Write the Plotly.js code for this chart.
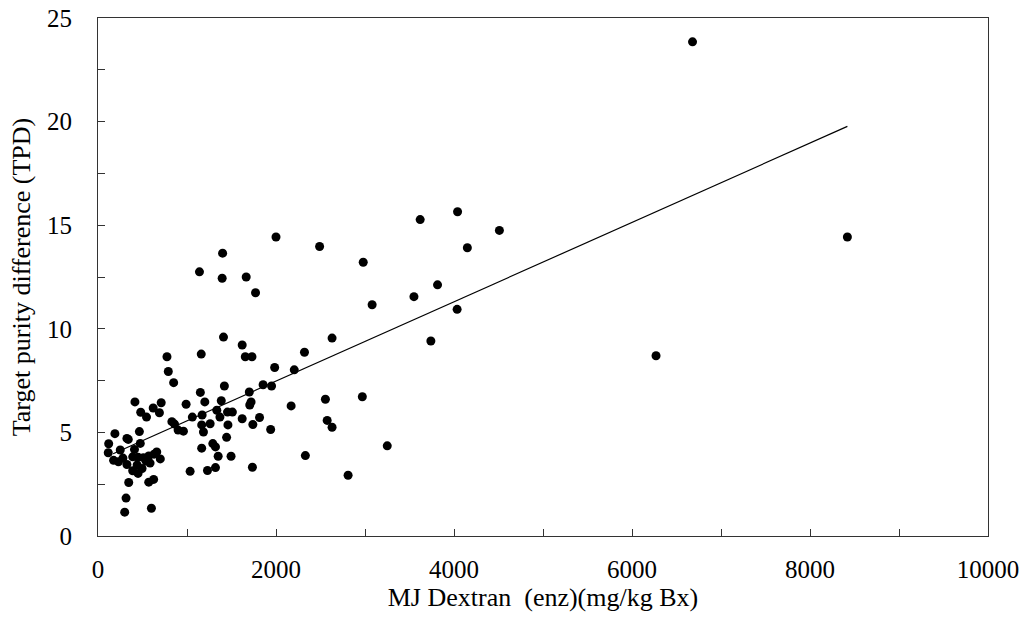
<!DOCTYPE html>
<html>
<head>
<meta charset="utf-8">
<script src="https://cdn.plot.ly/plotly-3.0.1.min.js"></script>
<style>html,body{margin:0;padding:0;background:#fff;}#chart{width:1020px;height:618px;}</style>
</head>
<body>
<div id="chart"></div>
<script>
// MJ Dextran (enz) (mg/kg Bx)
const dextran = [
  6680, 8420, 6270, 4040, 3620, 4510, 4150, 2000, 2490, 2980,
  1400, 1140, 1395, 1665, 1770, 3815, 3550, 3080, 4035, 3740,
  2630, 1410, 1620, 1655, 1730, 1160, 775, 790, 850, 2320,
  1985, 2205, 1855, 1950, 1420, 1700, 1150, 2970, 2555, 2170,
  415, 710, 1200, 1385, 1720, 990, 1705, 620, 545, 480,
  690, 1335, 1455, 1510, 1170, 1060, 1370, 1620, 1815, 830,
  860, 900, 960, 1165, 1260, 1460, 1740, 1940, 2575, 2630,
  1185, 465, 190, 1445, 325, 340, 475, 120, 1290, 1320,
  1165, 3250, 2330, 1350, 1495, 1735, 1320, 1035, 1230, 2810,
  115, 250, 175, 280, 390, 450, 510, 570, 630, 700,
  660, 410, 325, 440, 585, 390, 450, 495, 345, 570,
  625, 315, 300, 600, 230, 540
];
// Target purity difference (TPD)
const tpd = [
  23.85, 14.43, 8.70, 15.65, 15.27, 14.75, 13.91, 14.43, 13.97, 13.21,
  13.65, 12.75, 12.44, 12.50, 11.74, 12.12, 11.55, 11.16, 10.94, 9.41,
  9.55, 9.60, 9.22, 8.65, 8.65, 8.78, 8.65, 7.94, 7.40, 8.87,
  8.13, 8.02, 7.30, 7.24, 7.24, 6.95, 6.93, 6.72, 6.60, 6.28,
  6.47, 6.43, 6.47, 6.53, 6.47, 6.36, 6.32, 6.18, 5.74, 5.97,
  5.95, 6.07, 5.98, 5.98, 5.84, 5.74, 5.74, 5.66, 5.72, 5.52,
  5.40, 5.11, 5.06, 5.36, 5.42, 5.36, 5.38, 5.14, 5.58, 5.25,
  5.02, 5.04, 4.94, 4.76, 4.71, 4.66, 4.47, 4.45, 4.46, 4.30,
  4.24, 4.35, 3.88, 3.85, 3.85, 3.32, 3.30, 3.12, 3.16, 2.93,
  4.02, 4.15, 3.65, 3.76, 3.82, 3.80, 3.78, 3.86, 3.95, 3.72,
  4.06, 4.18, 3.45, 3.43, 3.52, 3.15, 3.02, 3.26, 2.58, 2.60,
  2.73, 1.83, 1.15, 1.34, 3.58, 3.62
];
// fitted trend line end points
const trendX = [170, 8420];
const trendY = [3.97, 19.77];

const xTickVals = [0, 2000, 4000, 6000, 8000, 10000];
const yTickVals = [0, 5, 10, 15, 20, 25];

const font = 'Liberation Serif, Times New Roman, serif';

const traces = [
  {
    x: dextran, y: tpd, type: 'scatter', mode: 'markers',
    marker: {color: '#000', size: 9, line: {width: 0}},
    hoverinfo: 'x+y', showlegend: false, cliponaxis: false
  },
  {
    x: trendX, y: trendY, type: 'scatter', mode: 'lines',
    line: {color: '#000', width: 1.2}, hoverinfo: 'skip', showlegend: false
  }
];

const axisCommon = {
  showgrid: false, zeroline: false, showline: true, linecolor: '#333', linewidth: 1,
  mirror: true, ticks: 'inside', ticklen: 7, tickcolor: '#333', tickwidth: 1,
  ticklabeloverflow: 'allow',
  tickfont: {family: font, size: 25, color: '#000'}
};

const layout = {
  width: 1020, height: 618,
  margin: {l: 98, r: 32, t: 18, b: 82},
  paper_bgcolor: '#fff', plot_bgcolor: '#fff',
  showlegend: false,
  xaxis: Object.assign({}, axisCommon, {
    range: [0, 10000], tickmode: 'array', tickvals: xTickVals,
    ticktext: xTickVals.map(String),
    minor: {dtick: 1000, tick0: 0, ticks: 'inside', ticklen: 7, tickcolor: '#333'},
    ticklabelstandoff: 11,
    title: {text: 'MJ Dextran  (enz)(mg/kg Bx)', font: {family: font, size: 26, color: '#000'}, standoff: 4}
  }),
  yaxis: Object.assign({}, axisCommon, {
    range: [0, 25], tickmode: 'array', tickvals: yTickVals,
    ticktext: yTickVals.map(String),
    minor: {dtick: 2.5, tick0: 0, ticks: 'inside', ticklen: 7, tickcolor: '#333'},
    ticklabelstandoff: 20,
    title: {text: 'Target purity difference (TPD)', font: {family: font, size: 26, color: '#000'}, standoff: 8}
  })
};

Plotly.newPlot('chart', traces, layout, {displayModeBar: false, staticPlot: true});
</script>
</body>
</html>
